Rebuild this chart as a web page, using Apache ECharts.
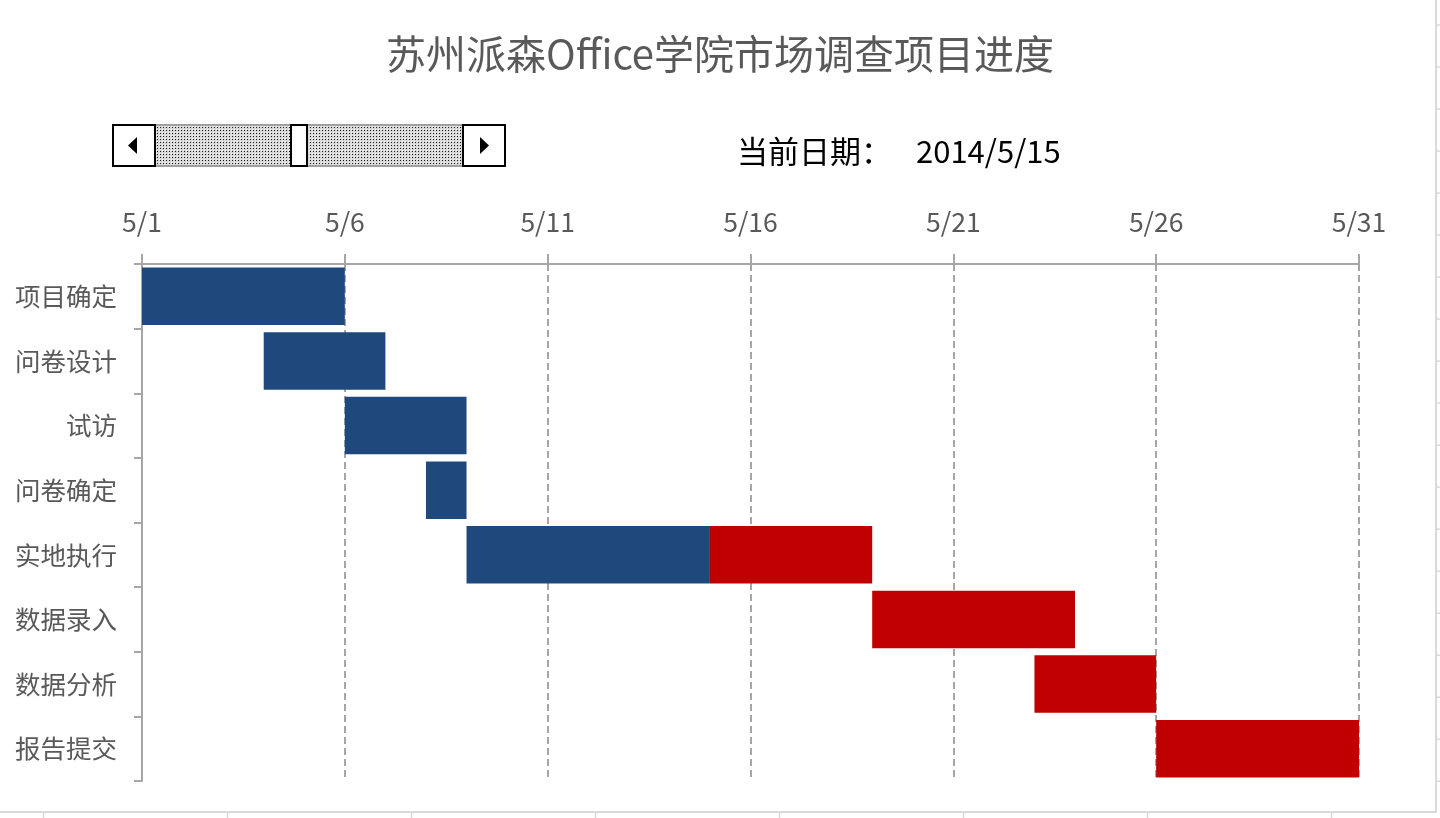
<!DOCTYPE html>
<html>
<head>
<meta charset="utf-8">
<script src="https://cdn.jsdelivr.net/npm/echarts@6/dist/echarts.min.js"></script>
<style>
html,body{margin:0;padding:0;background:#fff;}
#chart{width:1440px;height:818px;}
</style>
</head>
<body>
<div id="chart"></div>
<script>
// ---- data ----
const titleText = '苏州派森Office学院市场调查项目进度';
const currentDateLabel = '当前日期：';
const currentDateValue = '2014/5/15';
const categories = ['项目确定','问卷设计','试访','问卷确定','实地执行','数据录入','数据分析','报告提交'];
// days after 5/1 at which each task starts
const offsetDays = [0, 3, 5, 7, 8, 18, 22, 25];
// days completed by the current date (blue)
const completedDays = [5, 3, 3, 1, 6, 0, 0, 0];
// days remaining after the current date (red)
const remainingDays = [0, 0, 0, 0, 4, 5, 3, 5];
const xTickLabels = ['5/1','5/6','5/11','5/16','5/21','5/26','5/31'];
const xMin = 0, xMax = 30, xInterval = 5;

// ---- render ----
const chart = echarts.init(document.getElementById('chart'), null, {renderer: 'canvas'});
const FONT = '"Noto Sans CJK SC", "Noto Sans", sans-serif';

// dither pattern for the scroll bar track
const pc = document.createElement('canvas');
pc.width = 3; pc.height = 3;
const pctx = pc.getContext('2d');
pctx.fillStyle = '#d8d8d8'; pctx.fillRect(0,0,3,3);
pctx.fillStyle = '#1a1a1a'; pctx.fillRect(1,1,1,1);
pctx.fillStyle = '#f4f4f4'; pctx.fillRect(0,0,1,1);

const sheetGray = '#d9d9d9';
const decor = [];
// worksheet border lines & ticks
decor.push({type:'line', shape:{x1:1436,y1:0,x2:1436,y2:812}, style:{stroke:sheetGray, lineWidth:2}, silent:true});
decor.push({type:'line', shape:{x1:0,y1:812,x2:1437,y2:812}, style:{stroke:sheetGray, lineWidth:2}, silent:true});
for (let k = 0; k < 19; k++) {
  const y = 25 + k * 42.01;
  decor.push({type:'line', shape:{x1:1437,y1:y,x2:1440,y2:y}, style:{stroke:sheetGray, lineWidth:1.5}, silent:true});
}
for (let k = 0; k < 8; k++) {
  const x = 43.5 + k * 184;
  decor.push({type:'line', shape:{x1:x,y1:813,x2:x,y2:818}, style:{stroke:sheetGray, lineWidth:1.5}, silent:true});
}
// scroll bar control
decor.push({type:'rect', shape:{x:156,y:125,width:306,height:41}, style:{fill:{image:pc, repeat:'repeat'}}, silent:true});
decor.push({type:'line', shape:{x1:156,y1:125,x2:462,y2:125}, style:{stroke:'#a0a0a0', lineWidth:2}, silent:true});
decor.push({type:'line', shape:{x1:156,y1:166,x2:462,y2:166}, style:{stroke:'#a0a0a0', lineWidth:2}, silent:true});
decor.push({type:'rect', shape:{x:113,y:125,width:42,height:41}, style:{fill:'#fff', stroke:'#000', lineWidth:2}, silent:true});
decor.push({type:'rect', shape:{x:463,y:125,width:42,height:41}, style:{fill:'#fff', stroke:'#000', lineWidth:2}, silent:true});
decor.push({type:'rect', shape:{x:291,y:125,width:16,height:41}, style:{fill:'#fff', stroke:'#000', lineWidth:2}, silent:true});
decor.push({type:'polygon', shape:{points:[[128,145.5],[137,137],[137,154]]}, style:{fill:'#000'}, silent:true});
decor.push({type:'polygon', shape:{points:[[489,145.5],[480,137],[480,154]]}, style:{fill:'#000'}, silent:true});
// current date text
decor.push({type:'text', x:737, y:151, style:{text:currentDateLabel, font:'31px ' + FONT, fill:'#000', textVerticalAlign:'middle', textAlign:'left'}, silent:true});
decor.push({type:'text', x:916, y:151, style:{text:currentDateValue, font:'31px ' + FONT, fill:'#000', textVerticalAlign:'middle', textAlign:'left'}, silent:true});

const axisGray = '#a6a6a6';
const option = {
  animation: false,
  backgroundColor: '#fff',
  title: {
    text: titleText,
    left: 'center',
    top: 29,
    textStyle: {fontFamily: FONT, fontSize: 40, fontWeight: 'normal', color: '#595959'}
  },
  grid: {left: 142, right: 81, top: 264, bottom: 37, containLabel: false},
  xAxis: {
    type: 'value',
    position: 'top',
    min: xMin, max: xMax, interval: xInterval,
    axisLine: {show: true, lineStyle: {color: axisGray, width: 2}},
    axisTick: {show: true, length: 10, lineStyle: {color: axisGray, width: 2}},
    axisLabel: {
      margin: 29,
      fontFamily: FONT, fontSize: 26.5, color: '#595959',
      formatter: function (v) { return xTickLabels[Math.round((v - xMin) / xInterval)] || ''; }
    },
    splitLine: {show: true, lineStyle: {color: axisGray, width: 2, type: [7, 4]}}
  },
  yAxis: {
    type: 'category',
    inverse: true,
    data: categories,
    axisLine: {show: true, lineStyle: {color: axisGray, width: 2}},
    axisTick: {show: true, length: 8, lineStyle: {color: axisGray, width: 2}},
    axisLabel: {margin: 25, fontFamily: FONT, fontSize: 25.5, color: '#595959'},
    splitLine: {show: false}
  },
  series: [
    {
      name: 'offset', type: 'bar', stack: 'g', data: offsetDays,
      itemStyle: {color: 'transparent'}, emphasis: {disabled: true}, silent: true,
      barCategoryGap: '11%'
    },
    {
      name: '已完成', type: 'bar', stack: 'g', data: completedDays,
      itemStyle: {color: '#1F497D'}, barCategoryGap: '11%'
    },
    {
      name: '未完成', type: 'bar', stack: 'g', data: remainingDays,
      itemStyle: {color: '#C00000'}, barCategoryGap: '11%'
    }
  ],
  graphic: decor
};
chart.setOption(option);
</script>
</body>
</html>
